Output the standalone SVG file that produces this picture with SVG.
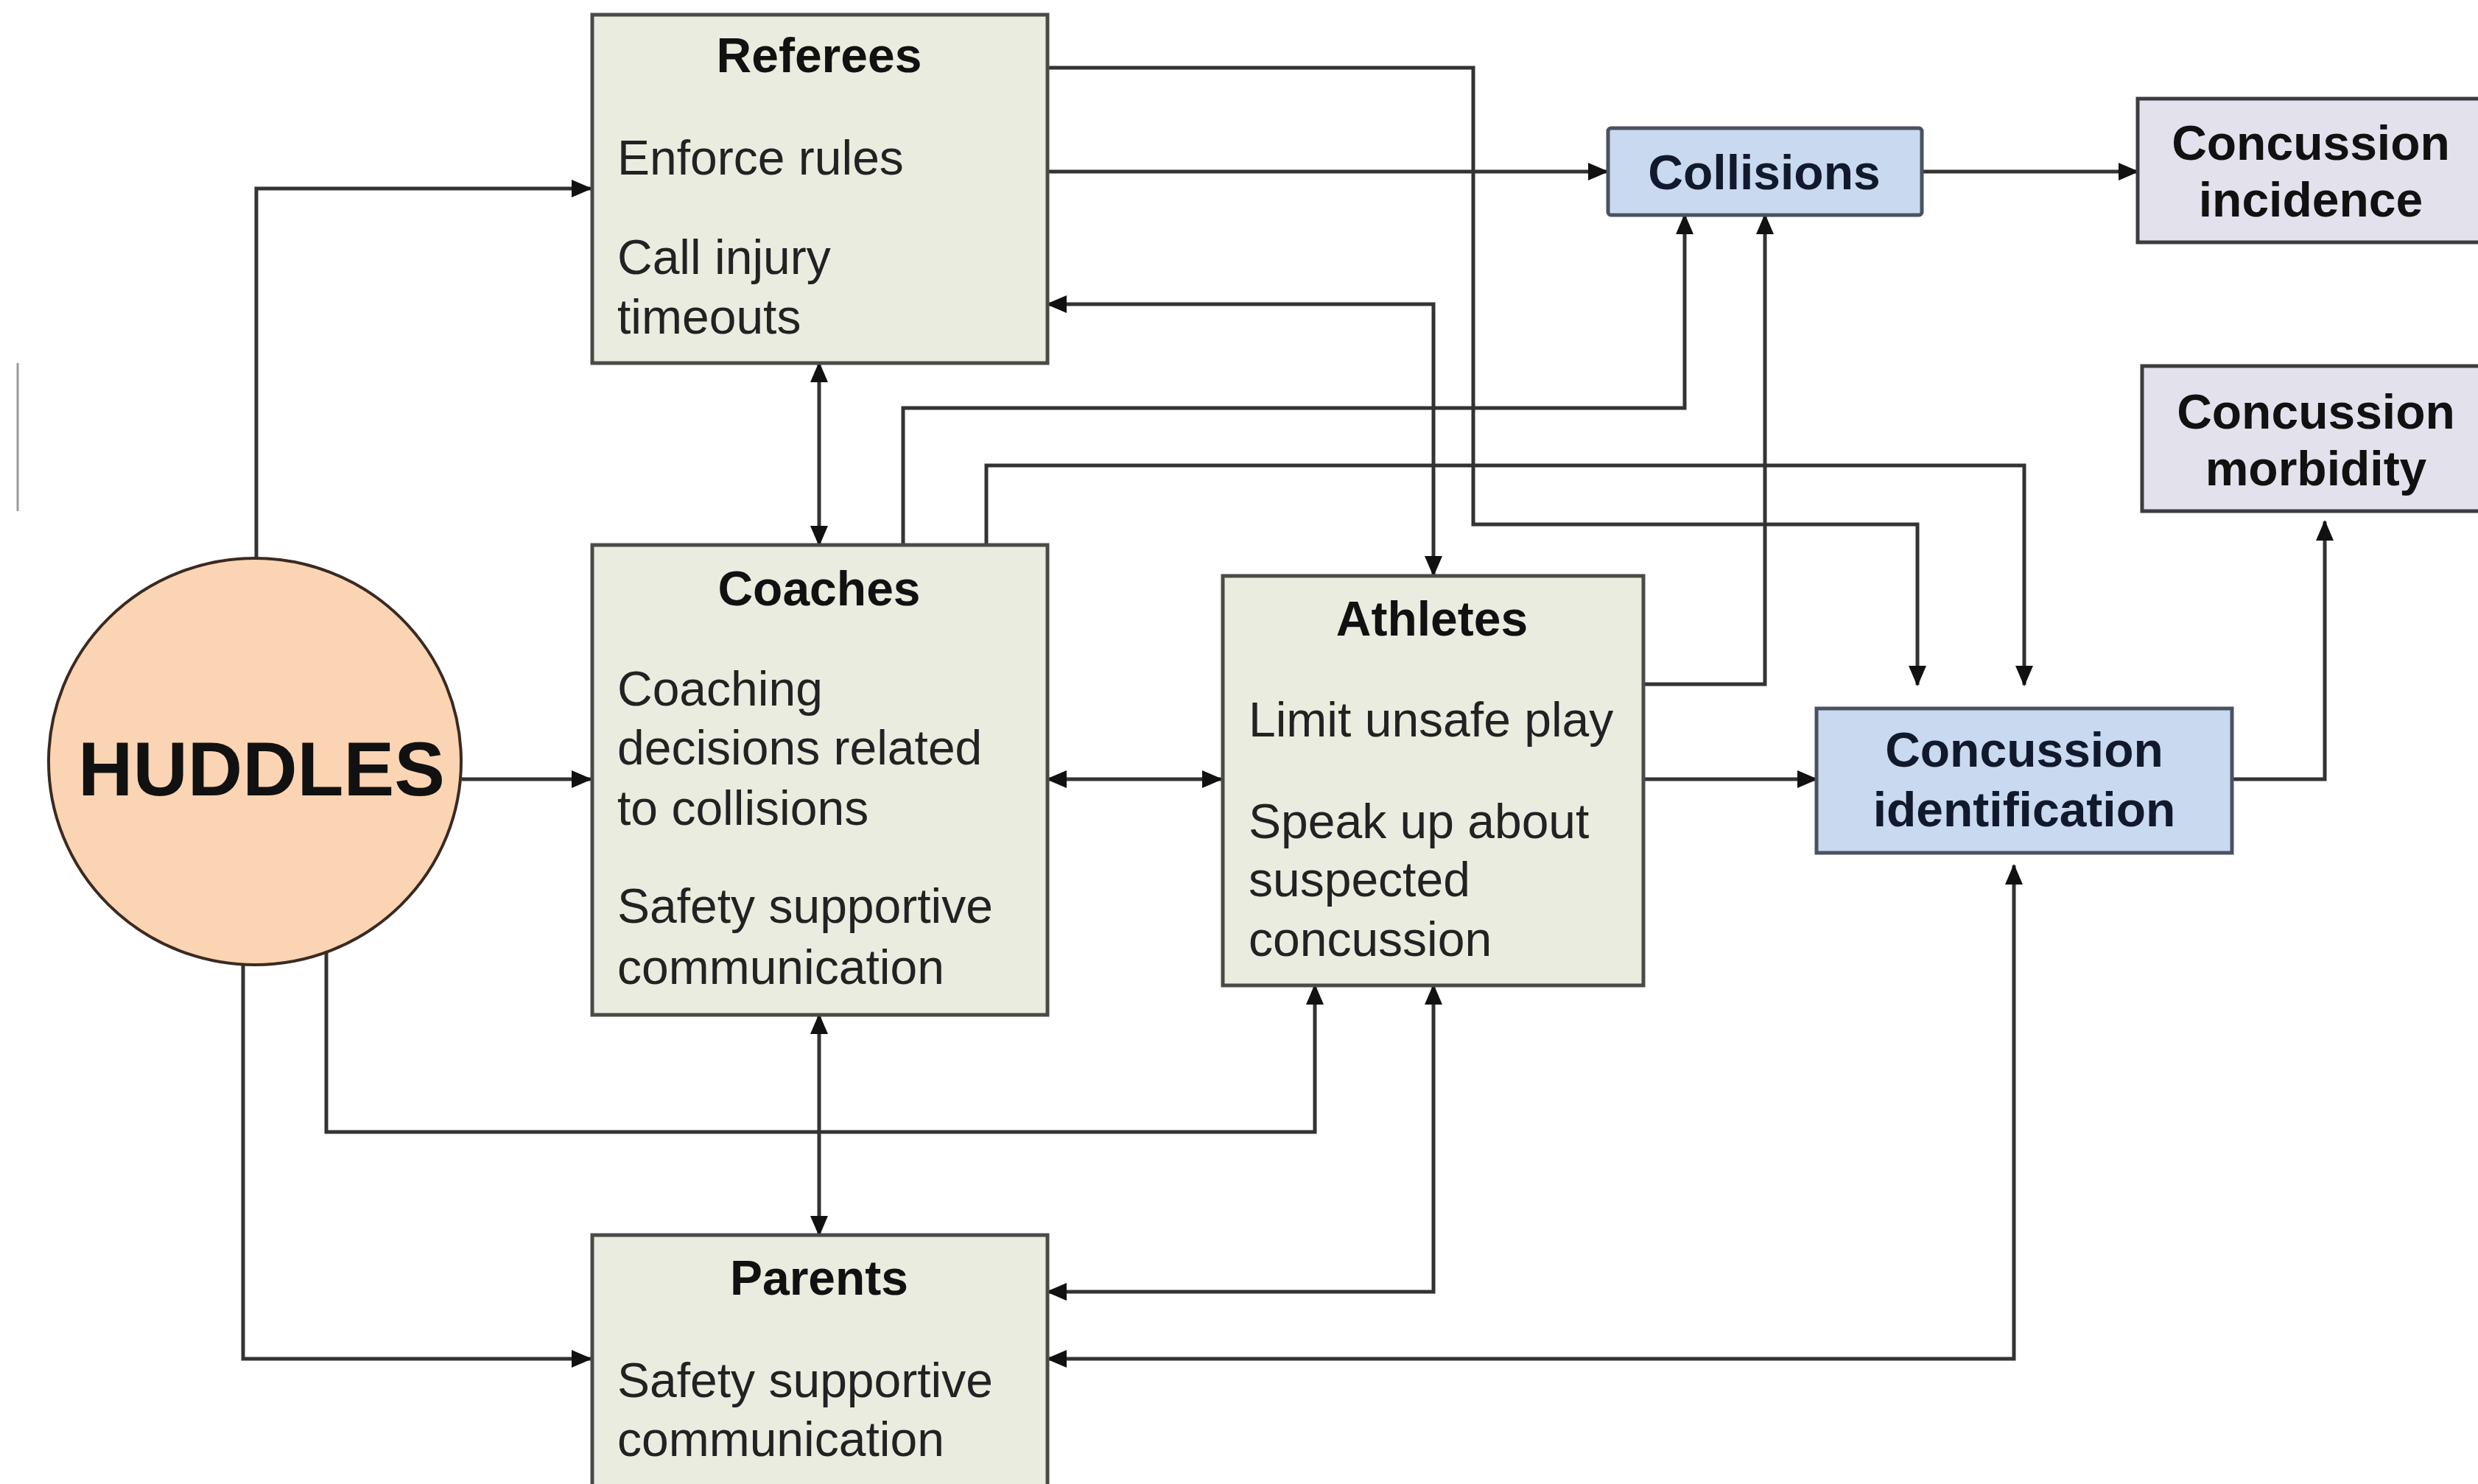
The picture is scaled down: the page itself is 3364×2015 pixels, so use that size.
<svg xmlns="http://www.w3.org/2000/svg" width="3364" height="2015" viewBox="0 0 3364 2015">
<style>
.box{fill:#e9ecdf;stroke:#4a4a46;stroke-width:5}
.blue{fill:#c9d9ef;stroke:#4a5260;stroke-width:5}
.lav{fill:#e3e1ec;stroke:#3c3c40;stroke-width:5}
.t{font-family:"Liberation Sans",Arial,sans-serif;font-size:66px;fill:#222}
.b{font-weight:bold;fill:#111}
.c{text-anchor:middle}
.n{fill:#111a2c}
.con{fill:none;stroke:#333;stroke-width:5}
</style>
<defs>
<marker id="ah" viewBox="0 0 28 24" markerUnits="userSpaceOnUse" markerWidth="28" markerHeight="24" refX="26" refY="12" orient="auto-start-reverse">
<path d="M0,0 L28,12 L0,24 z" fill="#111"/>
</marker>
</defs>
<rect width="3364" height="2015" fill="#ffffff"/>
<line x1="24" y1="493" x2="24" y2="694" stroke="#9a9a9a" stroke-width="3"/>
<g id="connectors">
<path class="con" d="M348 758 V256 H802" marker-end="url(#ah)"/>
<path class="con" d="M627 1058 H802" marker-end="url(#ah)"/>
<path class="con" d="M443 1292 V1537 H1785 V1338" marker-end="url(#ah)"/>
<path class="con" d="M330 1308 V1845 H802" marker-end="url(#ah)"/>
<path class="con" d="M1112 493 V740" marker-start="url(#ah)" marker-end="url(#ah)"/>
<path class="con" d="M1112 1378 V1677" marker-start="url(#ah)" marker-end="url(#ah)"/>
<path class="con" d="M1422 1058 H1658" marker-start="url(#ah)" marker-end="url(#ah)"/>
<path class="con" d="M1422 92 H2000 V712 H2603 V930" marker-end="url(#ah)"/>
<path class="con" d="M1422 233 H2182" marker-end="url(#ah)"/>
<path class="con" d="M2609 233 H2902" marker-end="url(#ah)"/>
<path class="con" d="M1226 740 V554 H2287 V292" marker-end="url(#ah)"/>
<path class="con" d="M1339 740 V632 H2748 V930" marker-end="url(#ah)"/>
<path class="con" d="M2231 929 H2396 V292" marker-end="url(#ah)"/>
<path class="con" d="M2231 1058 H2466" marker-end="url(#ah)"/>
<path class="con" d="M3030 1058 H3156 V708" marker-end="url(#ah)"/>
<path class="con" d="M1422 413 H1946 V781" marker-start="url(#ah)" marker-end="url(#ah)"/>
<path class="con" d="M1946 1338 V1754 H1422" marker-start="url(#ah)" marker-end="url(#ah)"/>
<path class="con" d="M1422 1845 H2734 V1175" marker-start="url(#ah)" marker-end="url(#ah)"/>
</g>
<g id="huddles">
<ellipse cx="346" cy="1034" rx="280" ry="276" fill="#fbd4b3" stroke="#3a2a22" stroke-width="4"/>
<text class="t b c" x="355" y="1080" style="font-size:103px">HUDDLES</text>
</g>
<g id="referees">
<rect class="box" x="804" y="20" width="618" height="473"/>
<text class="t b c" x="1112" y="98">Referees</text>
<text class="t" x="838" y="237">Enforce rules</text>
<text class="t" x="838" y="372">Call injury</text>
<text class="t" x="838" y="453">timeouts</text>
</g>
<g id="coaches">
<rect class="box" x="804" y="740" width="618" height="638"/>
<text class="t b c" x="1112" y="822">Coaches</text>
<text class="t" x="838" y="958">Coaching</text>
<text class="t" x="838" y="1038">decisions related</text>
<text class="t" x="838" y="1120">to collisions</text>
<text class="t" x="838" y="1253">Safety supportive</text>
<text class="t" x="838" y="1336">communication</text>
</g>
<g id="athletes">
<rect class="box" x="1660" y="782" width="571" height="556"/>
<text class="t b c" x="1944" y="863">Athletes</text>
<text class="t" x="1695" y="1000">Limit unsafe play</text>
<text class="t" x="1695" y="1138">Speak up about</text>
<text class="t" x="1695" y="1217">suspected</text>
<text class="t" x="1695" y="1298">concussion</text>
</g>
<g id="parents">
<rect class="box" x="804" y="1677" width="618" height="360"/>
<text class="t b c" x="1112" y="1758">Parents</text>
<text class="t" x="838" y="1897">Safety supportive</text>
<text class="t" x="838" y="1977">communication</text>
</g>
<g id="collisions">
<rect class="blue" x="2183" y="174" width="426" height="118" rx="4"/>
<text class="t b c n" x="2395" y="257">Collisions</text>
</g>
<g id="concussion-incidence">
<rect class="lav" x="2902" y="134" width="480" height="195"/>
<text class="t b c" x="3137" y="217">Concussion</text>
<text class="t b c" x="3137" y="294">incidence</text>
</g>
<g id="concussion-morbidity">
<rect class="lav" x="2908" y="497" width="480" height="197"/>
<text class="t b c" x="3144" y="582">Concussion</text>
<text class="t b c" x="3144" y="659">morbidity</text>
</g>
<g id="concussion-identification">
<rect class="blue" x="2466" y="962" width="564" height="196"/>
<text class="t b c n" x="2748" y="1041">Concussion</text>
<text class="t b c n" x="2748" y="1122">identification</text>
</g>
</svg>
